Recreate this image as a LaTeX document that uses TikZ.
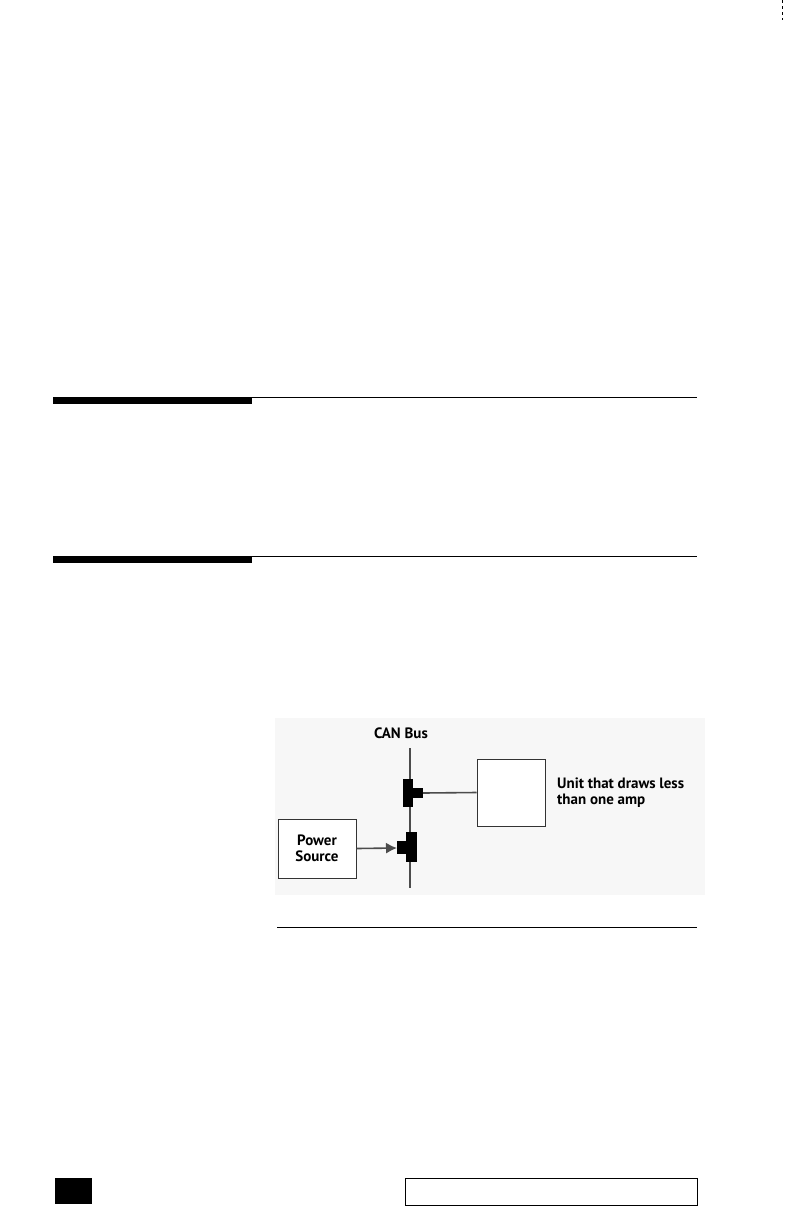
\documentclass[tikz,border=0pt]{standalone}
\usepackage{fontspec}
\setmainfont{PT Sans}
\usetikzlibrary{arrows.meta}
\begin{document}
\begin{tikzpicture}[x=1pt,y=-1pt,
  lbl/.style={font=\bfseries\fontsize{15}{16}\selectfont,inner sep=0pt},
  blk/.style={fill=black,draw=none},
  wire/.style={draw=black!70,line width=1.6pt},
  unitbox/.style={draw=black!80,line width=1pt,fill=white}]
\useasboundingbox (0,0) rectangle (792,1224);
% crop mark
\draw[dashed,line width=0.8pt] (782,0) -- (782,20);
% section rules
\fill (53,397) rectangle (252,404);
\draw[line width=0.6pt] (252,397) -- (697,397);
\fill (53,556) rectangle (252,563);
\draw[line width=0.6pt] (252,556) -- (697,556);
% figure background
\fill[black!3] (275,718) rectangle (705,895);
% bus
\node[lbl] (can) at (401,733) {CAN Bus};
\coordinate (bt) at (410,748);
\coordinate (bb) at (410,888);
\draw[wire] (bt) -- (bb);
% upper tee
\fill[blk] (403,779) rectangle (413,807);
\fill[blk] (413,788) rectangle (423,798);
\coordinate (t1) at (423,793);
\node[unitbox,minimum width=68pt,minimum height=67pt] (unit) at (511,792.5) {};
\draw[wire] (t1) -- (unit.west);
\node[lbl,anchor=west,align=left] (ut) at (557,793) {Unit that draws less\\than one amp};
% lower tee
\fill[blk] (406,832) rectangle (417,862);
\fill[blk] (397,841) rectangle (406,854);
\coordinate (t2) at (397,848);
\node[unitbox,minimum width=78pt,minimum height=59pt,lbl,align=center,inner sep=0pt] (ps) at (317,848.5) {Power\\Source};
\draw[wire,-{Latex[length=11pt,width=11pt]}] (ps.east) -- (t2);
% figure bottom rule
\draw[line width=0.6pt] (277,927) -- (697,927);
% footer
\fill (55,1178) rectangle (92,1204);
\draw[line width=0.9pt] (405,1178) rectangle (697,1205);
\end{tikzpicture}
\end{document}
